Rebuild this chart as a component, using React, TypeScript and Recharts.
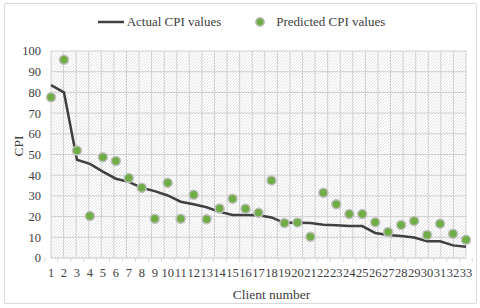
import React from 'react';
import { ComposedChart, Line, Scatter, XAxis, YAxis, CartesianGrid, Legend } from 'recharts';

const clients = [1,2,3,4,5,6,7,8,9,10,11,12,13,14,15,16,17,18,19,20,21,22,23,24,25,26,27,28,29,30,31,32,33];
const actualCPI = [83.5,80,47.5,45.5,41.7,38.3,36.8,33.9,32.3,30.2,27.2,26,24.5,22.3,20.8,20.8,20.6,19.6,17,17,16.9,16.1,15.8,15.4,15.4,12.1,11.1,10.6,9.9,8.1,8.1,6.1,5.4];
const predictedCPI = [77.6,95.8,51.9,20.3,48.7,46.9,38.7,33.9,19,36.3,19,30.5,18.7,23.9,28.6,23.8,21.8,37.5,16.9,17.2,10.3,31.5,26,21.2,21.2,17.3,12.6,16,17.9,11.1,16.6,11.7,8.8];
const yTicks = [0,10,20,30,40,50,60,70,80,90,100];

const data = clients.map((c, i) => ({ client: c, actual: actualCPI[i], predicted: predictedCPI[i] }));

const W = 480, H = 308;
const M = { top: 35, right: 14, left: 0, bottom: 5 };
const YW = 51;
const XH = 45;
const FONT = "'Liberation Serif', Tinos, 'Times New Roman', 'DejaVu Serif', serif";
const GRID = '#d9d9d9';

const plotW = W - M.left - M.right - YW;
const bw = plotW / clients.length;

const XTick = (props: any) => {
  const { x, y, payload, index } = props;
  const top = y - 8;
  return (
    <g>
      <line x1={x - bw / 2} x2={x - bw / 2} y1={top} y2={top + 4} stroke={GRID} />
      {index === clients.length - 1 && (
        <line x1={x + bw / 2} x2={x + bw / 2} y1={top} y2={top + 4} stroke={GRID} />
      )}
      <text x={x} y={top + 19} textAnchor="middle" fontSize={12.5} style={{ fontFamily: FONT }} fill="#404040">
        {payload.value}
      </text>
    </g>
  );
};

const renderLegend = () => (
  <div style={{ display: 'flex', justifyContent: 'center', alignItems: 'center', fontFamily: FONT, fontSize: 13, color: '#404040', paddingLeft: 2 }}>
    <svg width={28} height={10} style={{ marginRight: 2 }}>
      <line x1={1} x2={27} y1={5} y2={5} stroke="#404040" strokeWidth={2.5} />
    </svg>
    <span style={{ marginRight: 33 }}>Actual CPI values</span>
    <svg width={12} height={12} style={{ marginRight: 10 }}>
      <circle cx={6} cy={6} r={4.2} fill="#70ad47" stroke="#bfbfbf" strokeWidth={1.5} />
    </svg>
    <span>Predicted CPI values</span>
  </div>
);

export default function App() {
  return (
    <div style={{ position: 'absolute', left: 0, top: 0, width: W, height: H, background: '#fff' }}>
      <div style={{ position: 'absolute', left: 4, top: 3, width: 471, height: 299, border: '1px solid #d9d9d9', borderRadius: 2 }} />
      <div style={{ position: 'absolute', left: 0, top: 0 }}>
        <ComposedChart width={W} height={H} data={data} margin={M}>
          <defs>
            <pattern id="hatch" width={3} height={3} patternUnits="userSpaceOnUse">
              <rect width={3} height={3} fill="#ffffff" />
              <path d="M0,3 L3,0 M-1,1 L1,-1 M2,4 L4,2" stroke="#dcdcdc" strokeWidth={0.8} />
            </pattern>
          </defs>
          <CartesianGrid
            stroke="#d0d0d0"
            strokeOpacity={1}
            strokeWidth={1}
            fill="url(#hatch)"
            fillOpacity={1}
            verticalCoordinatesGenerator={({ offset }: any) =>
              Array.from({ length: clients.length + 1 }, (_, i) => offset.left + (i * offset.width) / clients.length)
            }
          />
          <XAxis
            dataKey="client"
            interval={0}
            height={XH}
            axisLine={{ stroke: GRID }}
            tickLine={false}
            tick={<XTick />}
            label={{ value: 'Client number', position: 'insideBottom', offset: 4, dx: 13, fontSize: 13.5, style: { fontFamily: FONT }, fill: '#404040' }}
          />
          <YAxis
            width={YW}
            domain={[0, 100]}
            ticks={yTicks}
            interval={0}
            axisLine={false}
            tickLine={false}
            tickMargin={4}
            tick={{ fontSize: 12.5, style: { fontFamily: FONT }, fill: '#404040' }}
            label={{ value: 'CPI', angle: -90, position: 'insideLeft', offset: 18, dy: 2, fontSize: 13.5, style: { fontFamily: FONT }, fill: '#404040' }}
          />
          <Legend verticalAlign="top" align="center" content={renderLegend} wrapperStyle={{ top: 14, left: 0, width: W }} />
          <Line
            type="linear"
            dataKey="actual"
            stroke="#404040"
            strokeWidth={2.5}
            dot={false}
            activeDot={false}
            isAnimationActive={false}
          />
          <Scatter
            dataKey="predicted"
            fill="#70ad47"
            shape={(p: any) => <circle cx={p.cx} cy={p.cy} r={4.5} fill="#70ad47" stroke="#bfbfbf" strokeWidth={1.5} />}
            isAnimationActive={false}
          />
        </ComposedChart>
      </div>
    </div>
  );
}
